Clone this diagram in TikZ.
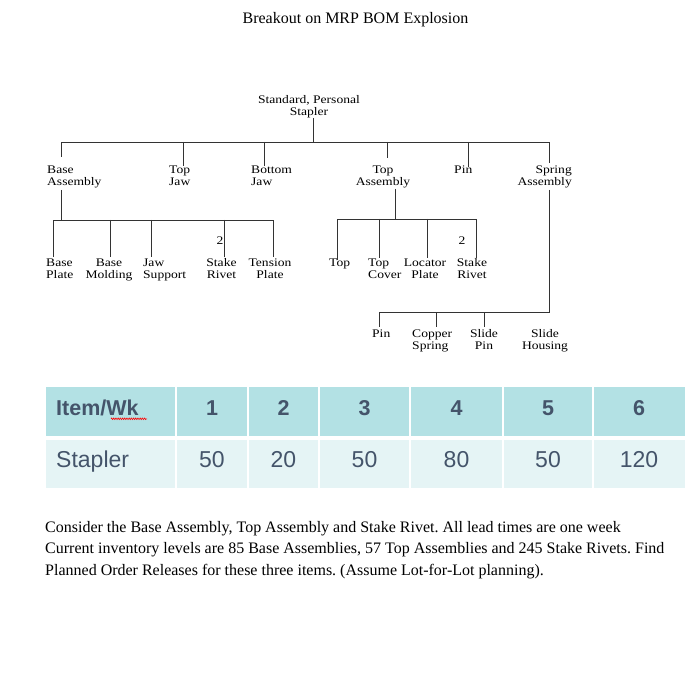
\documentclass[tikz,border=0pt]{standalone}
\usepackage{fontspec}
\setmainfont{Liberation Serif}
\newfontfamily\treefont[FakeStretch=1.17]{Liberation Serif}
\newfontfamily\arialfont{Liberation Sans}
\usetikzlibrary{decorations.pathmorphing}
\definecolor{hdr}{HTML}{B3E1E4}
\definecolor{dat}{HTML}{E5F4F5}
\definecolor{tx}{HTML}{44546A}
\newcommand\twol[2]{\begin{tabular}[t]{@{}#1@{}}#2\end{tabular}}
\frenchspacing
\begin{document}
\begin{tikzpicture}[x=1pt,y=-1pt,
  tree/.style={line width=0.9pt, draw=black!80},
  lab/.style={inner sep=0pt, font=\treefont\fontsize{11.6}{12}\selectfont},
  hd/.style={inner sep=0pt, text=tx, font=\arialfont\bfseries\fontsize{21.5}{24}\selectfont},
  dt/.style={inner sep=0pt, text=tx, font=\arialfont\fontsize{23}{26}\selectfont},
  body/.style={inner sep=0pt, font=\fontsize{16}{21.6}\selectfont}]
\useasboundingbox (0,0) rectangle (699,695);
\fill[white] (0,0) rectangle (699,695);

% title
\node[body, anchor=base] (title) at (355.5,24) {Breakout on MRP BOM Explosion};

% tree labels
\node[lab, anchor=base] (stapler) at (309,104) {\twol{c}{Standard, Personal\\Stapler}};
\node[lab, anchor=base west] (baseasm) at (47,174) {\twol{l}{Base\\Assembly}};
\node[lab, anchor=base west] (topjaw) at (169,174) {\twol{l}{Top\\Jaw}};
\node[lab, anchor=base west] (botjaw) at (251,174) {\twol{l}{Bottom\\Jaw}};
\node[lab, anchor=base] (topasm) at (383,174) {\twol{c}{Top\\Assembly}};
\node[lab, anchor=base west] (pin) at (454,174) {Pin};
\node[lab, anchor=base east] (springasm) at (572,174) {\twol{r}{Spring\\Assembly}};

\node[lab, anchor=base west] (bplate) at (46,267) {\twol{l}{Base\\Plate}};
\node[lab, anchor=base] (bmold) at (109,267) {\twol{c}{Base\\Molding}};
\node[lab, anchor=base west] (jsup) at (143,267) {\twol{l}{Jaw\\Support}};
\node[lab, anchor=base] (srivet1) at (221.5,267) {\twol{c}{Stake\\Rivet}};
\node[lab, anchor=base] (tplate) at (270,267) {\twol{c}{Tension\\Plate}};
\node[lab, anchor=base] (qty1) at (220,244) {2};

\node[lab, anchor=base west] (top) at (329,267) {Top};
\node[lab, anchor=base west] (tcover) at (368,267) {\twol{l}{Top\\Cover}};
\node[lab, anchor=base] (lplate) at (425,267) {\twol{c}{Locator\\Plate}};
\node[lab, anchor=base] (srivet2) at (472,267) {\twol{c}{Stake\\Rivet}};
\node[lab, anchor=base] (qty2) at (462,244) {2};

\node[lab, anchor=base west] (pin2) at (372,337) {Pin};
\node[lab, anchor=base west] (cspring) at (412,337) {\twol{l}{Copper\\Spring}};
\node[lab, anchor=base] (spin) at (484,337) {\twol{c}{Slide\\Pin}};
\node[lab, anchor=base] (shousing) at (545,337) {\twol{c}{Slide\\Housing}};

% connector end points
\coordinate (st-down) at (313,118);
\coordinate (bus1) at (313,142);
\coordinate (ba-up) at (61,157);
\coordinate (tj-up) at (183,166);
\coordinate (bj-up) at (264,166);
\coordinate (ta-up) at (387,158);
\coordinate (pn-up) at (468,167);
\coordinate (sa-up) at (549,163);

\coordinate (ba-down) at (61,190);
\coordinate (bus2) at (61,220);
\coordinate (bp-up) at (53,257);
\coordinate (bm-up) at (110,257);
\coordinate (js-up) at (151,257);
\coordinate (sr1-up) at (224,257);
\coordinate (tp-up) at (273,257);

\coordinate (ta-down) at (395,189);
\coordinate (bus3) at (395,219);
\coordinate (tt-up) at (337,260);
\coordinate (tc-up) at (379,258);
\coordinate (lp-up) at (427,258);
\coordinate (sr2-up) at (476,258);

\coordinate (sa-down) at (549,190);
\coordinate (bus4) at (549,312);
\coordinate (p2-up) at (379,327);
\coordinate (cs-up) at (436,327);
\coordinate (sp-up) at (484,327);

% level 1
\draw[tree] (st-down) -- (bus1);
\draw[tree] (ba-up) -- (ba-up |- bus1) -- (sa-up |- bus1) -- (sa-up);
\draw[tree] (tj-up |- bus1) -- (tj-up);
\draw[tree] (bj-up |- bus1) -- (bj-up);
\draw[tree] (ta-up |- bus1) -- (ta-up);
\draw[tree] (pn-up |- bus1) -- (pn-up);

% base assembly
\draw[tree] (ba-down) -- (bus2);
\draw[tree] (bp-up) -- (bp-up |- bus2) -- (tp-up |- bus2) -- (tp-up);
\draw[tree] (bm-up |- bus2) -- (bm-up);
\draw[tree] (js-up |- bus2) -- (js-up);
\draw[tree] (sr1-up |- bus2) -- (sr1-up);

% top assembly
\draw[tree] (ta-down) -- (bus3);
\draw[tree] (tt-up) -- (tt-up |- bus3) -- (sr2-up |- bus3) -- (sr2-up);
\draw[tree] (tc-up |- bus3) -- (tc-up);
\draw[tree] (lp-up |- bus3) -- (lp-up);

% spring assembly
\draw[tree] (sa-down) -- (bus4) -- (p2-up |- bus4) -- (p2-up);
\draw[tree] (cs-up |- bus4) -- (cs-up);
\draw[tree] (sp-up |- bus4) -- (sp-up);

% table cells
\fill[hdr] (46,387) rectangle (175.25,436);
\fill[hdr] (176.75,387) rectangle (247.25,436);
\fill[hdr] (248.75,387) rectangle (318.25,436);
\fill[hdr] (319.75,387) rectangle (409.25,436);
\fill[hdr] (410.75,387) rectangle (502.25,436);
\fill[hdr] (503.75,387) rectangle (592.25,436);
\fill[hdr] (593.75,387) rectangle (685,436);
\fill[dat] (46,440) rectangle (175.25,488);
\fill[dat] (176.75,440) rectangle (247.25,488);
\fill[dat] (248.75,440) rectangle (318.25,488);
\fill[dat] (319.75,440) rectangle (409.25,488);
\fill[dat] (410.75,440) rectangle (502.25,488);
\fill[dat] (503.75,440) rectangle (592.25,488);
\fill[dat] (593.75,440) rectangle (685,488);

% table text
\node[hd, anchor=base west] (h0) at (56,415) {Item/Wk};
\node[hd, anchor=base] (h1) at (212,415) {1};
\node[hd, anchor=base] (h2) at (283.5,415) {2};
\node[hd, anchor=base] (h3) at (364.5,415) {3};
\node[hd, anchor=base] (h4) at (456.5,415) {4};
\node[hd, anchor=base] (h5) at (548,415) {5};
\node[hd, anchor=base] (h6) at (639,415) {6};
\draw[red, line width=0.6pt, decorate, decoration={zigzag, amplitude=0.8pt, segment length=2.2pt}] (111,418.8) -- (147,418.8);

\node[dt, anchor=base west] (d0) at (56,467) {Stapler};
\node[dt, anchor=base] (d1) at (212,467) {50};
\node[dt, anchor=base] (d2) at (283.5,467) {20};
\node[dt, anchor=base] (d3) at (364.5,467) {50};
\node[dt, anchor=base] (d4) at (456.5,467) {80};
\node[dt, anchor=base] (d5) at (548,467) {50};
\node[dt, anchor=base] (d6) at (639,467) {120};

% paragraph
\node[body, anchor=base west] (para) at (45,532) {\twol{l}{Consider the Base Assembly, Top Assembly and Stake Rivet. All lead times are one week\\
Current inventory levels are 85 Base Assemblies, 57 Top Assemblies and 245 Stake Rivets. Find\\
Planned Order Releases for these three items. (Assume Lot-for-Lot planning).}};
\end{tikzpicture}
\end{document}
